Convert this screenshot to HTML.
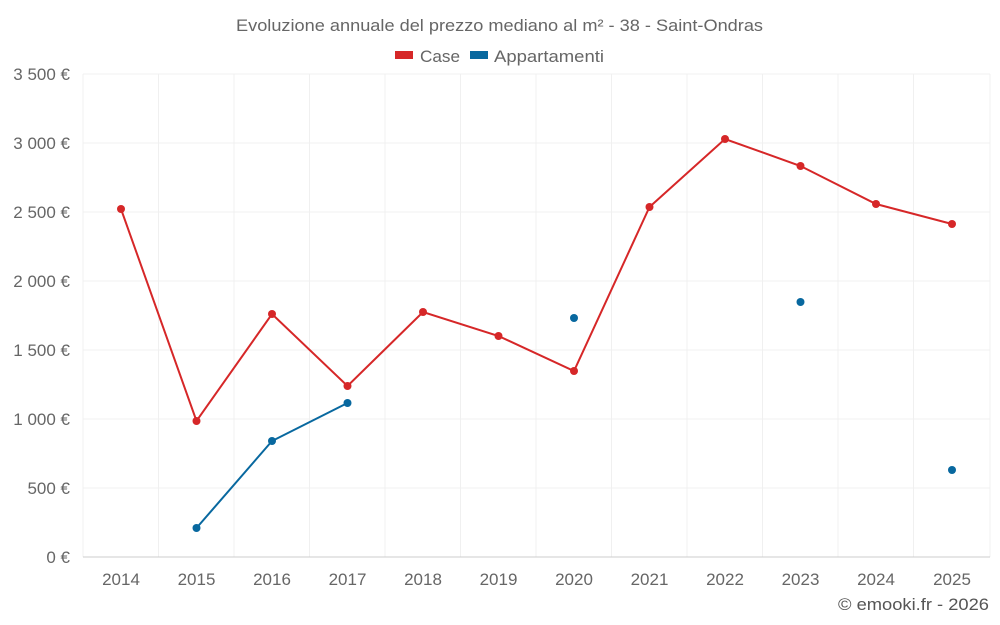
<!DOCTYPE html>
<html><head><meta charset="utf-8"><style>
body{margin:0;background:#fff;}
svg{display:block;font-family:"Liberation Sans",sans-serif;}
</style></head><body>
<svg width="1000" height="625" viewBox="0 0 1000 625">
<text x="236" y="31" font-size="17" fill="#666" textLength="527" lengthAdjust="spacingAndGlyphs">Evoluzione annuale del prezzo mediano al m² - 38 - Saint-Ondras</text>
<rect x="395" y="51" width="18" height="8" fill="#d62728"/>
<text x="420" y="62" font-size="17" fill="#666" textLength="40" lengthAdjust="spacingAndGlyphs">Case</text>
<rect x="470" y="51" width="18" height="8" fill="#08689f"/>
<text x="494" y="62" font-size="17" fill="#666" textLength="110" lengthAdjust="spacingAndGlyphs">Appartamenti</text>
<g stroke="#f0f0f0" stroke-width="1">
<line x1="83" y1="74" x2="990" y2="74"/><line x1="83" y1="143" x2="990" y2="143"/>
<line x1="83" y1="212" x2="990" y2="212"/><line x1="83" y1="281" x2="990" y2="281"/>
<line x1="83" y1="350" x2="990" y2="350"/><line x1="83" y1="419" x2="990" y2="419"/>
<line x1="83" y1="488" x2="990" y2="488"/>
<line x1="83" y1="74" x2="83" y2="557"/><line x1="158.5" y1="74" x2="158.5" y2="557"/><line x1="234" y1="74" x2="234" y2="557"/><line x1="309.5" y1="74" x2="309.5" y2="557"/><line x1="385" y1="74" x2="385" y2="557"/><line x1="460.5" y1="74" x2="460.5" y2="557"/><line x1="536" y1="74" x2="536" y2="557"/><line x1="611.5" y1="74" x2="611.5" y2="557"/><line x1="687" y1="74" x2="687" y2="557"/><line x1="762.5" y1="74" x2="762.5" y2="557"/><line x1="838" y1="74" x2="838" y2="557"/><line x1="913.5" y1="74" x2="913.5" y2="557"/><line x1="990" y1="74" x2="990" y2="557"/>
</g>
<line x1="83" y1="557" x2="990" y2="557" stroke="#ccc"/>
<g font-size="17" fill="#666" text-anchor="end">
<text x="70" y="80">3 500 €</text><text x="70" y="149">3 000 €</text><text x="70" y="218">2 500 €</text><text x="70" y="287">2 000 €</text><text x="70" y="356">1 500 €</text><text x="70" y="425">1 000 €</text><text x="70" y="494">500 €</text><text x="70" y="563">0 €</text>
</g>
<g font-size="17" fill="#666" text-anchor="middle">
<text x="121" y="585">2014</text><text x="196.5" y="585">2015</text><text x="272" y="585">2016</text><text x="347.5" y="585">2017</text><text x="423" y="585">2018</text><text x="498.5" y="585">2019</text><text x="574" y="585">2020</text><text x="649.5" y="585">2021</text><text x="725" y="585">2022</text><text x="800.5" y="585">2023</text><text x="876" y="585">2024</text><text x="952" y="585">2025</text>
</g>
<polyline fill="none" stroke="#d62728" stroke-width="2" points="121,209 196.5,421 272,314 347.5,386 423,312 498.5,336 574,371 649.5,207 725,139 800.5,166 876,204 952,224"/>
<g fill="#d62728"><circle cx="121" cy="209" r="4"/><circle cx="196.5" cy="421" r="4"/><circle cx="272" cy="314" r="4"/><circle cx="347.5" cy="386" r="4"/><circle cx="423" cy="312" r="4"/><circle cx="498.5" cy="336" r="4"/><circle cx="574" cy="371" r="4"/><circle cx="649.5" cy="207" r="4"/><circle cx="725" cy="139" r="4"/><circle cx="800.5" cy="166" r="4"/><circle cx="876" cy="204" r="4"/><circle cx="952" cy="224" r="4"/></g>
<polyline fill="none" stroke="#08689f" stroke-width="2" points="196.5,528 272,441 347.5,403"/>
<g fill="#08689f"><circle cx="196.5" cy="528" r="4"/><circle cx="272" cy="441" r="4"/><circle cx="347.5" cy="403" r="4"/><circle cx="574" cy="318" r="4"/><circle cx="800.5" cy="302" r="4"/><circle cx="952" cy="470" r="4"/></g>
<text x="838" y="610" font-size="17" fill="#555" textLength="151" lengthAdjust="spacingAndGlyphs">© emooki.fr - 2026</text>
</svg>
</body></html>
